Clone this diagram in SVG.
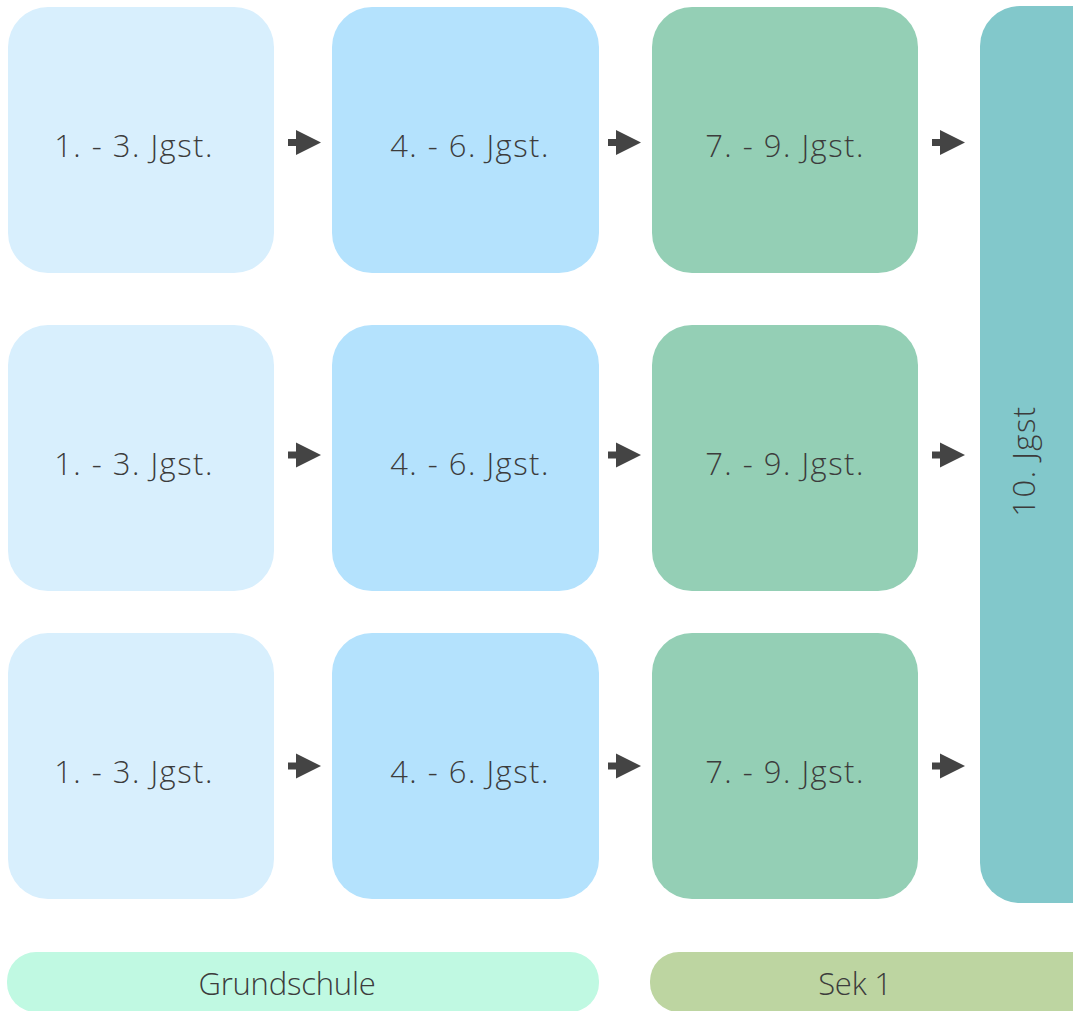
<svg xmlns="http://www.w3.org/2000/svg" width="1073" height="1011" viewBox="0 0 1073 1011">
<style>
text{font-family:"Open Sans","Noto Sans",sans-serif;font-size:31px;font-weight:300;letter-spacing:1.5px;fill:#3c3c3c;text-anchor:middle}
text.l{letter-spacing:-0.2px}
.a{fill:#D8EFFD}.b{fill:#B4E2FD}.c{fill:#94CFB5}.d{fill:#82C8CB}.g{fill:#C0F9E2}.s{fill:#BDD5A1}
.arr{fill:#444}
</style>
<defs>
<path id="ar" d="M0,-3.5 H8 V-12.5 L33,0 L8,12.5 V3.5 H0 Z"/>
</defs>
<rect width="1073" height="1011" fill="#fff"/>
<g id="r1c1"><rect class="a" x="8" y="7" width="266" height="266" rx="40"/><text x="134" y="157">1. - 3. Jgst.</text></g>
<g id="r1c2"><rect class="b" x="332" y="7" width="267" height="266" rx="40"/><text x="470" y="157">4. - 6. Jgst.</text></g>
<g id="r1c3"><rect class="c" x="652" y="7" width="266" height="266" rx="40"/><text x="785" y="157">7. - 9. Jgst.</text></g>
<g id="r2c1"><rect class="a" x="8" y="325" width="266" height="266" rx="40"/><text x="134" y="475">1. - 3. Jgst.</text></g>
<g id="r2c2"><rect class="b" x="332" y="325" width="267" height="266" rx="40"/><text x="470" y="475">4. - 6. Jgst.</text></g>
<g id="r2c3"><rect class="c" x="652" y="325" width="266" height="266" rx="40"/><text x="785" y="475">7. - 9. Jgst.</text></g>
<g id="r3c1"><rect class="a" x="8" y="633" width="266" height="266" rx="40"/><text x="134" y="783">1. - 3. Jgst.</text></g>
<g id="r3c2"><rect class="b" x="332" y="633" width="267" height="266" rx="40"/><text x="470" y="783">4. - 6. Jgst.</text></g>
<g id="r3c3"><rect class="c" x="652" y="633" width="266" height="266" rx="40"/><text x="785" y="783">7. - 9. Jgst.</text></g>
<g id="c4"><rect class="d" x="980" y="6" width="130" height="897" rx="40"/><text transform="translate(1035,461) rotate(-90)">10. Jgst</text></g>
<g id="grundschule"><rect class="g" x="7" y="952" width="592" height="60" rx="29"/><text class="l" x="287" y="995">Grundschule</text></g>
<g id="sek1"><rect class="s" x="650" y="952" width="460" height="60" rx="29"/><text class="l" x="855" y="995">Sek 1</text></g>
<g id="connectors" class="arr">
<use href="#ar" x="288" y="142.5"/><use href="#ar" x="608" y="142.5"/><use href="#ar" x="932" y="142.5"/>
<use href="#ar" x="288" y="455"/><use href="#ar" x="608" y="455"/><use href="#ar" x="932" y="455"/>
<use href="#ar" x="288" y="766"/><use href="#ar" x="608" y="766"/><use href="#ar" x="932" y="766"/>
</g>
</svg>
